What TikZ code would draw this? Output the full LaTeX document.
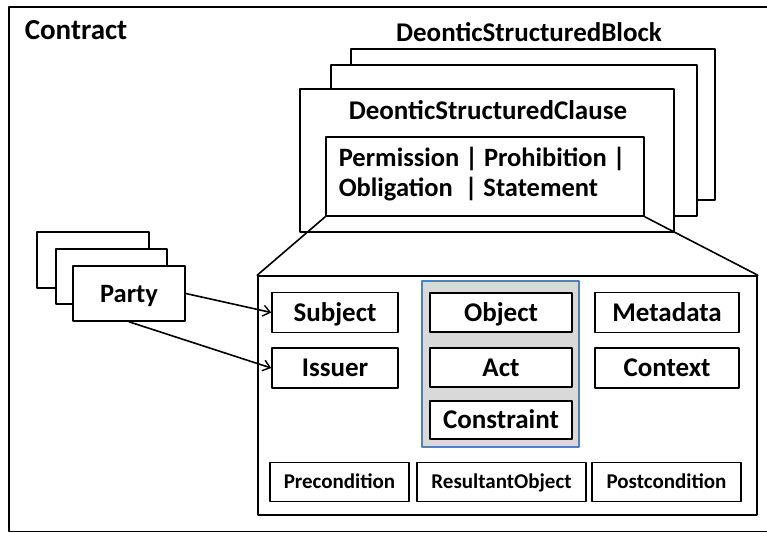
\documentclass[tikz,border=0pt]{standalone}
\usepackage{fontspec}
\setmainfont{Carlito}
\usetikzlibrary{arrows.meta}
\begin{document}
\begin{tikzpicture}[x=1pt,y=-1pt,line cap=round,line join=round,line width=1.6pt,
	>={Straight Barb[length=7pt,width=11pt,line width=1.4pt]},
	font=\bfseries,
	card/.style={draw,fill=white,rectangle,inner sep=0pt},
	elem/.style={draw,fill=white,rectangle,inner sep=0pt,minimum height=40pt,text height=20pt,text depth=2.6pt,font=\fontsize{27}{29}\bfseries},
	small/.style={draw,fill=white,rectangle,inner sep=0pt,minimum height=39pt,text height=16pt,text depth=2.5pt,font=\fontsize{21}{23}\bfseries},
	title/.style={font=\fontsize{27}{30}\bfseries,inner sep=0pt}]
	\useasboundingbox (0,0) rectangle (767,533);
	\definecolor{groupblue}{RGB}{79,129,189}
	\definecolor{groupgray}{RGB}{217,217,217}
	% contract frame
	\draw[line width=1.8pt] (9,7) rectangle (790,531.5);
	\node[title,font=\fontsize{29}{31}\bfseries,anchor=base west] (contract) at (24,39) {Contract};
	% block of clauses
	\node[title] (block) at (529,32) {DeonticStructuredBlock};
	\draw[fill=white] (351,49) rectangle (715,200);
	\draw[fill=white] (331,65) rectangle (697,216);
	\node[card,minimum width=374pt,minimum height=143pt] (clause) at (487,160.5) {};
	\node[title] (clausetitle) at (488,110) {DeonticStructuredClause};
	\node[card,minimum width=318pt,minimum height=79pt] (kind) at (485,176.5) {};
	\node[title,font=\fontsize{26.5}{29}\bfseries,anchor=base west] (kindone) at (338,166) {Permission | Prohibition |};
	\node[title,font=\fontsize{26.5}{29}\bfseries,anchor=base west] (kindtwo) at (338,196) {Obligation \ | Statement};
	% detail of one clause
	\node[card,minimum width=499pt,minimum height=239pt] (detail) at (507.5,395.5) {};
	\draw (kind.south west) -- (detail.north west) (kind.south east) -- (detail.north east);
	\node[elem,minimum width=126pt] (subject) at (335,312.5) {Subject};
	\node[elem,minimum width=126pt] (issuer) at (335,368) {Issuer};
	\draw[groupblue,fill=groupgray,line width=1.3pt] (422,281) rectangle (579,447);
	\node[elem,minimum width=142pt,minimum height=39pt] (object) at (501,312.5) {Object};
	\node[elem,minimum width=142pt,minimum height=39pt] (act) at (501,367.5) {Act};
	\node[elem,minimum width=142pt,minimum height=38pt] (constraint) at (501,420) {Constraint};
	\node[elem,minimum width=144pt] (metadata) at (667,312.5) {Metadata};
	\node[elem,minimum width=144pt] (context) at (667,368) {Context};
	\node[small,minimum width=139pt] (precondition) at (339.5,482) {Precondition};
	\node[small,minimum width=169pt] (resultant) at (501.5,482) {ResultantObject};
	\node[small,minimum width=149pt] (postcondition) at (666.5,482) {Postcondition};
	% parties
	\draw[fill=white] (37,232) rectangle (149,288);
	\draw[fill=white] (56,249) rectangle (167,304);
	\node[card,minimum width=112pt,minimum height=55pt,text height=20pt,text depth=2.6pt,font=\fontsize{26.5}{28}\bfseries] (party) at (129,293.5) {Party};
	\draw[->] (party.east) -- (subject.west);
	\draw[->] (party.south) -- (issuer.west);
\end{tikzpicture}
\end{document}
